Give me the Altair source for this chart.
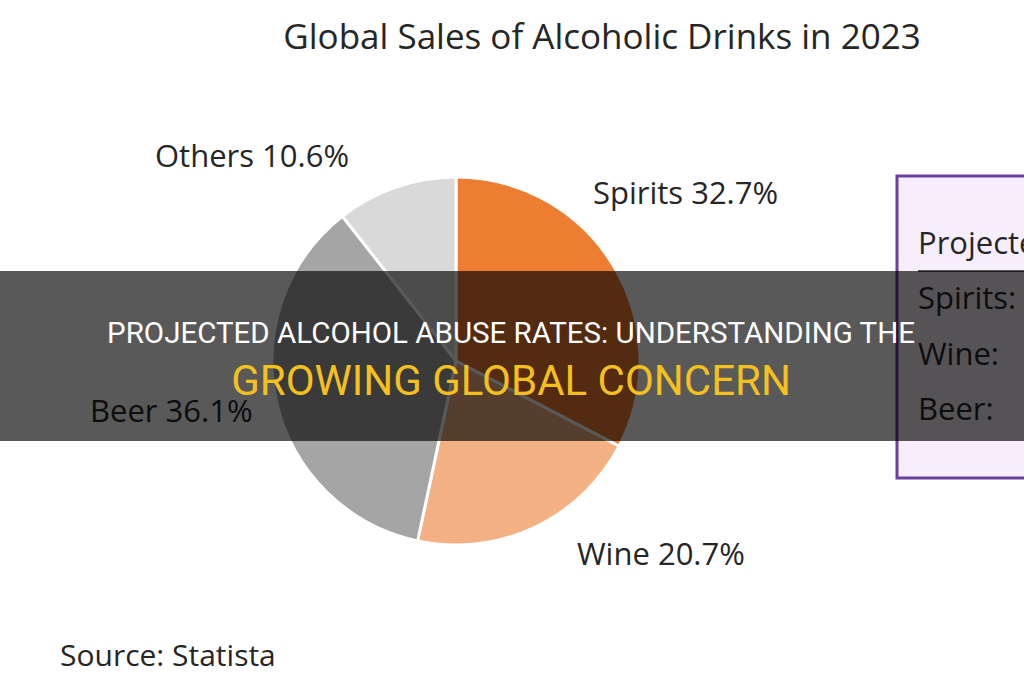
import altair as alt
import pandas as pd

# ---- data ----
categories = ["Spirits", "Wine", "Beer", "Others"]
shares = [32.7, 20.7, 36.1, 10.6]
slice_order = [1, 2, 3, 4]
slice_colors = ["#ED7D31", "#F4B183", "#A5A5A5", "#D9D9D9"]

chart_title = "Global Sales of Alcoholic Drinks in 2023"
source_note = "Source: Statista"
box_heading = "Projected"
box_rows = ["Spirits:", "Wine:", "Beer:"]
banner_line1 = "PROJECTED ALCOHOL ABUSE RATES: UNDERSTANDING THE"
banner_line2 = "GROWING GLOBAL CONCERN"

W, H = 1024, 680
FONT = "Open Sans"

pie_df = pd.DataFrame({"category": categories, "share": shares, "order": slice_order})
one = pd.DataFrame({"k": [0]})


def text_layer(txt, x, y, size, color="#262626", align="left", font=FONT, baseline="middle"):
    return alt.Chart(pd.DataFrame({"t": [txt]})).mark_text(
        align=align, baseline=baseline, fontSize=size, font=font, color=color
    ).encode(text="t:N", x=alt.value(x), y=alt.value(y))


pie = alt.Chart(pie_df).mark_arc(radius=184, stroke="white", strokeWidth=3).encode(
    theta=alt.Theta("share:Q", stack=True),
    color=alt.Color("category:N", scale=alt.Scale(domain=categories, range=slice_colors), legend=None),
    order=alt.Order("order:Q"),
    x=alt.value(456),
    y=alt.value(361),
)

box = alt.Chart(one).mark_rect(fill="#F6EEFA", stroke="#6B3FA0", strokeWidth=3).encode(
    x=alt.value(897), x2=alt.value(1040), y=alt.value(176), y2=alt.value(478)
)
underline = alt.Chart(one).mark_rule(color="#222222", strokeWidth=1.5).encode(
    x=alt.value(918), x2=alt.value(1024), y=alt.value(271)
)

labels = [
    text_layer(chart_title, 602, 38, 35, align="center"),
    text_layer("Others 10.6%", 155, 158, 31),
    text_layer("Spirits 32.7%", 593, 195, 31),
    text_layer("Beer 36.1%", 90, 413, 31),
    text_layer("Wine 20.7%", 577, 556, 31),
    text_layer(source_note, 60, 657, 30),
    text_layer(box_heading, 918, 245, 31),
    text_layer(box_rows[0], 918, 300, 31),
    text_layer(box_rows[1], 918, 356, 31),
    text_layer(box_rows[2], 918, 411, 31),
]

band = alt.Chart(one).mark_rect(color="#000000", opacity=0.65).encode(
    x=alt.value(0), x2=alt.value(W), y=alt.value(271), y2=alt.value(441)
)

banner = [
    text_layer(banner_line1, 511, 343, 29.5, color="#FFFFFF", align="center", font="Roboto", baseline="alphabetic"),
    text_layer(banner_line2, 511, 395, 42, color="#F4C01E", align="center", font="Roboto", baseline="alphabetic"),
]

chart = alt.layer(pie, box, underline, *labels, band, *banner).properties(
    width=W, height=H, padding=0, autosize=alt.AutoSizeParams(type="none"), background="white"
).configure_view(stroke=None)

chart.save("out.html", embed_options={"renderer": "svg", "actions": False})
